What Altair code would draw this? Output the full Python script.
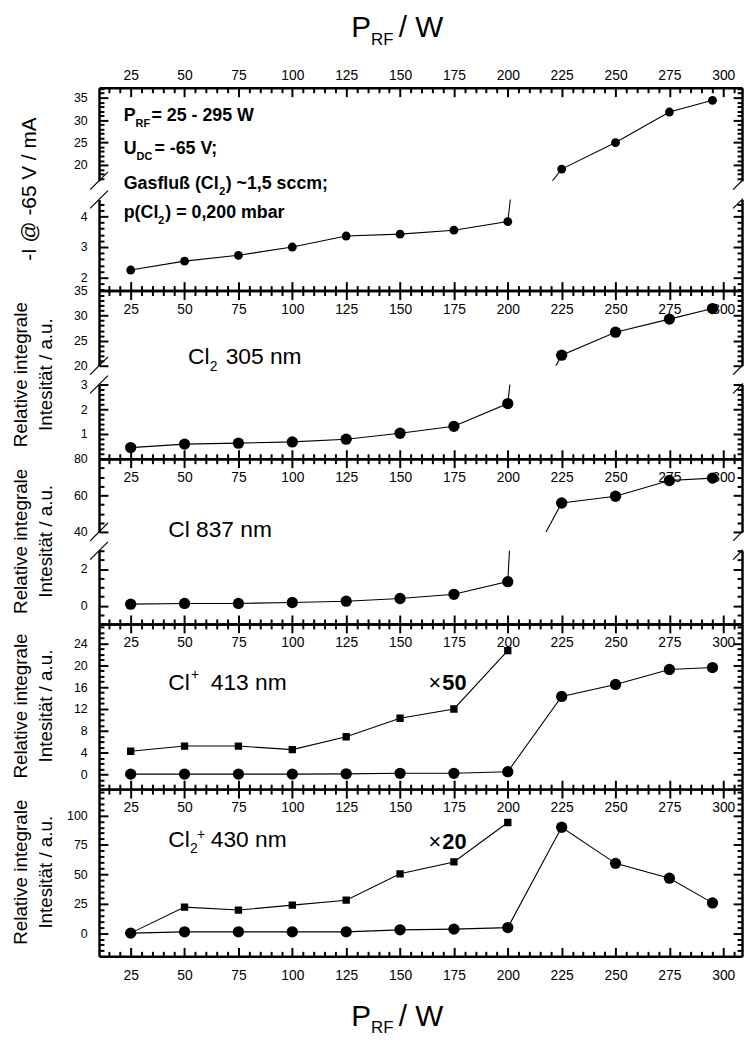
import json
import altair as alt
import pandas as pd

# ---------------- data ----------------
power = [25, 50, 75, 100, 125, 150, 175, 200, 225, 250, 275, 295]
power_scaled = [25, 50, 75, 100, 125, 150, 175, 200]

current_ma = [2.25, 2.54, 2.73, 3.0, 3.36, 3.42, 3.55, 3.83, 19.1, 25.0, 31.8, 34.4]
cl2_305 = [0.45, 0.59, 0.63, 0.68, 0.79, 1.03, 1.31, 2.23, 22.1, 26.7, 29.3, 31.4]
cl_837 = [0.08, 0.12, 0.12, 0.17, 0.24, 0.39, 0.62, 1.31, 55.8, 59.5, 68.1, 69.4]
clp_413 = [0.05, 0.05, 0.05, 0.05, 0.1, 0.2, 0.2, 0.5, 14.3, 16.5, 19.25, 19.6]
clp_413_x50 = [4.25, 5.2, 5.2, 4.55, 6.9, 10.3, 12.0, 22.7]
cl2p_430 = [0.0, 1.1, 1.1, 1.1, 1.1, 2.8, 3.4, 4.7, 90.0, 59.3, 46.7, 25.7]
cl2p_430_x20 = [0.0, 22.1, 19.6, 23.8, 28.0, 50.4, 60.5, 94.0]

x_tick_labels = [25, 50, 75, 100, 125, 150, 175, 200, 225, 250, 275, 300]

# ---------------- layout ----------------
FONT = "Liberation Sans"
W = 650
X0 = 100          # page x of the plot's left edge in the reference
XDOM = [10.3, 308.7]
dummy = pd.DataFrame({"d": [0]})
x_ticks = list(range(15, 310, 5))
X_MAJOR = "datum.value % 25 === 0"


def steps(a, b, s):
    out, v = [], a
    while v <= b + 1e-9:
        out.append(round(v, 3))
        v += s
    return out


def tick_size(test):
    return {"condition": {"test": test, "value": 9}, "value": 5}


def xenc(axis):
    return alt.X("P:Q", scale=alt.Scale(domain=XDOM, nice=False, zero=False), axis=axis)


def yenc(dom, axis):
    return alt.Y("v:Q", scale=alt.Scale(domain=dom, nice=False, zero=False), axis=axis)


def txt(s, px, py, top, size, weight="normal", align="center", angle=0):
    return alt.Chart(dummy).mark_text(
        text=s, font=FONT, fontSize=size, fontWeight=weight, align=align,
        baseline="alphabetic", angle=angle, color="black"
    ).encode(x=alt.value(px - X0), y=alt.value(py - top))


def ytitle(top, center, lines):
    if len(lines) == 1:
        return [txt(lines[0], 36, center, top, 21, angle=270)]
    return [txt(lines[0], 27, center, top, 19, angle=270),
            txt(lines[1], 52, center, top, 19, angle=270)]


def subpanel(top, h, dom, labels, ticks, majors, series, scaled=None, circ=130,
             top_edge=False, bottom_edge=False, xlabels=None, decor=()):
    df = pd.DataFrame({"P": power, "v": series})
    major_test = "indexof(%s, datum.value) >= 0" % json.dumps(majors)

    ax_a_y = alt.Axis(orient="left", values=labels, ticks=False, domain=True,
                      domainColor="black", domainWidth=2.5, labelFont=FONT,
                      labelFontSize=12.5, labelColor="black", labelPadding=12,
                      labelOverlap=False, labelFlush=False, grid=False, title=None)
    if xlabels == "top":
        ax_a_x = alt.Axis(orient="top", values=x_tick_labels, ticks=False, domain=False,
                          labelFont=FONT, labelFontSize=14, labelColor="black",
                          labelPadding=5, labelFlush=False, labelOverlap=False,
                          grid=False, title=None)
    elif xlabels == "bottom":
        ax_a_x = alt.Axis(orient="bottom", values=x_tick_labels, ticks=False, domain=False,
                          labelFont=FONT, labelFontSize=14, labelColor="black",
                          labelPadding=12, labelFlush=False, labelOverlap=False,
                          grid=False, title=None)
    else:
        ax_a_x = None
    layer_a = alt.Chart(df).mark_point(opacity=0, clip=True).encode(
        x=xenc(ax_a_x), y=yenc(dom, ax_a_y))

    ax_b_y = alt.Axis(orient="right", offset=-W, values=ticks, labels=False, domain=False,
                      ticks=True, tickSize=tick_size(major_test), tickWidth=2,
                      tickColor="black", grid=False, title=None)
    ax_b_x = None
    if top_edge:
        ax_b_x = alt.Axis(orient="bottom", offset=-h, values=x_ticks, labels=False,
                          domain=True, domainColor="black", domainWidth=2.5, ticks=True,
                          tickSize=tick_size(X_MAJOR), tickWidth=2, tickColor="black",
                          grid=False, title=None)
    layer_b = alt.Chart(df).mark_point(opacity=0, clip=True).encode(
        x=xenc(ax_b_x), y=yenc(dom, ax_b_y))

    ax_c_y = alt.Axis(orient="left", offset=-W, values=ticks, labels=False, domain=True,
                      domainColor="black", domainWidth=2.5, ticks=True,
                      tickSize=tick_size(major_test), tickWidth=2, tickColor="black",
                      grid=False, title=None)
    ax_c_x = None
    if bottom_edge:
        ax_c_x = alt.Axis(orient="top", offset=-h, values=x_ticks, labels=False,
                          domain=True, domainColor="black", domainWidth=2.5, ticks=True,
                          tickSize=tick_size(X_MAJOR), tickWidth=2, tickColor="black",
                          grid=False, title=None)
    layer_c = alt.Chart(df).mark_point(opacity=0, clip=True).encode(
        x=xenc(ax_c_x), y=yenc(dom, ax_c_y))

    line = alt.Chart(df).mark_line(color="black", strokeWidth=1.1, clip=True).encode(
        x=xenc(None), y=yenc(dom, None))
    pts = alt.Chart(df).mark_point(shape="circle", filled=True, size=circ, color="black",
                                   opacity=1, clip=True).encode(
        x=xenc(None), y=yenc(dom, None))
    layers = [layer_a, layer_b, layer_c, line, pts]
    if scaled is not None:
        dfs = pd.DataFrame({"P": power_scaled, "v": scaled})
        layers.append(alt.Chart(dfs).mark_line(color="black", strokeWidth=1.1, clip=True)
                      .encode(x=xenc(None), y=yenc(dom, None)))
        layers.append(alt.Chart(dfs).mark_point(shape="square", filled=True, size=55,
                                                color="black", opacity=1, clip=True)
                      .encode(x=xenc(None), y=yenc(dom, None)))
    layers += list(decor)
    return alt.layer(*layers).resolve_axis(x="independent", y="independent").properties(
        width=W, height=h)


def spacer(h=19):
    rules = []
    for cx, x2 in ((0, 9), (W, 1)):
        for cy in (0, h):
            rules.append(alt.Chart(dummy).mark_rule(color="black", strokeWidth=1.2).encode(
                x=alt.value(cx - 9), x2=alt.value(cx + x2),
                y=alt.value(cy + 9), y2=alt.value(cy - x2)))
    return alt.layer(*rules).properties(width=W, height=h)


# ---------------- panels ----------------
T1 = 83
deco1 = [
    txt("P", 355, 32, T1, 30, align="left"),
    txt("RF", 375, 40, T1, 17, align="left"),
    txt("/ W", 403, 32, T1, 30, align="left"),
    txt("P", 125, 117, T1, 18, "bold", "left"),
    txt("RF", 137, 123, T1, 11, "bold", "left"),
    txt("= 25 - 295 W", 153, 117, T1, 18, "bold", "left"),
    txt("U", 125, 150, T1, 18, "bold", "left"),
    txt("DC", 138, 156, T1, 11, "bold", "left"),
    txt("= -65 V;", 156, 150, T1, 18, "bold", "left"),
    txt("Gasfluß (Cl", 125, 185, T1, 18, "bold", "left"),
    txt("2", 221.5, 191, T1, 11, "bold", "left"),
    txt(") ~1,5 sccm;", 228, 185, T1, 18, "bold", "left"),
    txt("p(Cl", 125, 215, T1, 18, "bold", "left"),
    txt("2", 160, 221, T1, 11, "bold", "left"),
    txt(") = 0,200 mbar", 167, 215, T1, 18, "bold", "left"),
] + ytitle(T1, 185.5, ["-I @ -65 V / mA"])

p1u = subpanel(T1, 94, [16.5, 37.2], [20, 25, 30, 35], steps(17, 37, 1), [20, 25, 30, 35],
               current_ma, circ=80, top_edge=True, xlabels="top", decor=deco1)
p1l = subpanel(196, 92, [1.58, 4.55], [2, 3, 4], steps(1.6, 4.4, 0.2), [2, 3, 4],
               current_ma, circ=80, bottom_edge=True, xlabels="bottom")

RI = ["Relative integrale", "Intesität / a.u."]
T2 = 288
deco2 = ytitle(T2, 373, RI) + [
    txt("Cl", 190, 362, T2, 23, align="left"),
    txt("2", 212, 369, T2, 14, align="left"),
    txt("305 nm", 228, 362, T2, 23, align="left"),
]
p2u = subpanel(T2, 76, [20, 35], [20, 25, 30, 35], steps(20, 35, 1), [20, 25, 30, 35],
               cl2_305, top_edge=True, decor=deco2)
p2l = subpanel(383, 75, [0, 3], [1, 2, 3], steps(0, 3, 0.2), [0, 1, 2, 3],
               cl2_305, bottom_edge=True, xlabels="bottom")

T3 = 458
deco3 = ytitle(T3, 541.5, RI) + [txt("Cl 837 nm", 170, 537, T3, 23, align="left")]
p3u = subpanel(T3, 74, [40, 80], [40, 60, 80], steps(40, 80, 5), [40, 60, 80],
               cl_837, top_edge=True, decor=deco3)
p3l = subpanel(551, 74, [-1, 3], [0, 2], steps(-1, 3, 0.5), [0, 2],
               cl_837, bottom_edge=True, xlabels="bottom")

T4 = 625
deco4 = ytitle(T4, 708, RI) + [
    txt("Cl", 170, 692, T4, 23, align="left"),
    txt("+", 193, 681, T4, 14, align="left"),
    txt("413 nm", 213, 692, T4, 23, align="left"),
    txt("×", 433, 692, T4, 22, align="left"),
    txt("50", 447, 692, T4, 22, "bold", "left"),
]
lab4 = [0, 4, 8, 12, 16, 20, 24]
p4 = subpanel(T4, 167, [-2.7, 27.6], lab4, steps(-2, 27, 1), lab4, clp_413,
              scaled=clp_413_x50, top_edge=True, bottom_edge=True, xlabels="bottom",
              decor=deco4)

T5 = 792
deco5 = ytitle(T5, 876, RI) + [
    txt("Cl", 170, 850, T5, 23, align="left"),
    txt("2", 192, 857, T5, 14, align="left"),
    txt("+", 199, 842, T5, 14, align="left"),
    txt("430 nm", 213, 850, T5, 23, align="left"),
    txt("×", 433, 853, T5, 22, align="left"),
    txt("20", 447, 853, T5, 22, "bold", "left"),
    txt("P", 355, 1031, T5, 30, align="left"),
    txt("RF", 375, 1039, T5, 17, align="left"),
    txt("/ W", 403, 1031, T5, 30, align="left"),
]
lab5 = [0, 25, 50, 75, 100]
p5 = subpanel(T5, 169, [-19.7, 122.4], lab5, steps(-15, 120, 5), lab5, cl2p_430,
              scaled=cl2p_430_x20, top_edge=True, bottom_edge=True, xlabels="bottom",
              decor=deco5)

chart = alt.vconcat(
    p1u, spacer(), p1l, p2u, spacer(), p2l, p3u, spacer(), p3l, p4, p5,
    spacing=0, bounds="flush"
).configure_view(stroke=None).properties(
    padding={"left": 4, "top": 0, "right": 0, "bottom": 0}, background="white"
)

chart.save("out.html", embed_options={"renderer": "svg", "actions": False})
